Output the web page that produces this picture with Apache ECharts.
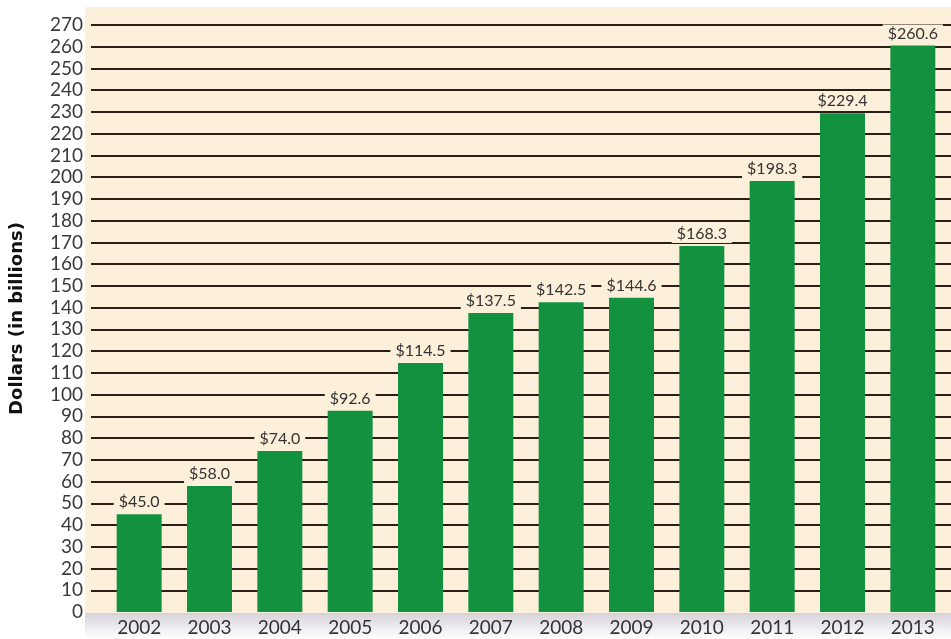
<!DOCTYPE html>
<html>
<head>
<meta charset="utf-8">
<script src="https://cdn.jsdelivr.net/npm/echarts@6/dist/echarts.min.js"></script>
<style>
  html, body { margin: 0; padding: 0; background: #fff; }
  #chart { width: 951px; height: 639px; }
</style>
</head>
<body>
<div id="chart"></div>
<script>
const years = ['2002', '2003', '2004', '2005', '2006', '2007', '2008', '2009', '2010', '2011', '2012', '2013']
const dollars = [45.0, 58.0, 74.0, 92.6, 114.5, 137.5, 142.5, 144.6, 168.3, 198.3, 229.4, 260.6]
const yMin = 0
const yMax = 270
const yStep = 10

const cream = '#fdf0da'
const green = '#12923f'
const textFont = 'Lato'

const chart = echarts.init(document.getElementById('chart'))

const option = {
  backgroundColor: '#ffffff',
  animation: false,
  graphic: [
    {
      type: 'rect',
      z: -10,
      shape: { x: 85, y: 7, width: 866, height: 606 },
      style: { fill: cream }
    },
    {
      type: 'rect',
      z: -10,
      shape: { x: 85, y: 613, width: 866, height: 26 },
      style: {
        fill: new echarts.graphic.LinearGradient(0, 0, 0, 1, [
          { offset: 0, color: '#d6d2dc' },
          { offset: 1, color: '#ffffff' }
        ])
      }
    }
  ],
  grid: [
    { left: 88, right: 0, top: 25, bottom: 27 },
    { left: 104, right: 3, top: 25, bottom: 27 }
  ],
  xAxis: [
    {
      gridIndex: 0,
      type: 'value',
      show: false,
      min: 0,
      max: 1
    },
    {
      gridIndex: 1,
      type: 'category',
      data: years,
      axisLine: { show: false },
      axisTick: { show: false },
      axisLabel: {
        color: '#333',
        fontFamily: textFont,
        fontSize: 19,
        margin: 6
      }
    }
  ],
  yAxis: [
    {
      gridIndex: 0,
      type: 'value',
      min: yMin,
      max: yMax,
      interval: yStep,
      name: 'Dollars (in billions)',
      nameLocation: 'middle',
      nameGap: 65,
      nameTextStyle: {
        color: '#111',
        fontFamily: 'DejaVu Sans',
        fontWeight: 'bold',
        fontSize: 18
      },
      axisLine: { show: false },
      axisTick: { show: false },
      axisLabel: {
        color: '#3a3a3a',
        fontFamily: textFont,
        fontSize: 19,
        margin: 8
      },
      splitLine: {
        show: true,
        showMinLine: false,
        lineStyle: { color: '#2a1f18', width: 2 }
      }
    },
    {
      gridIndex: 1,
      type: 'value',
      min: yMin,
      max: yMax,
      interval: yStep,
      show: false,
      splitLine: { show: false }
    }
  ],
  series: [
    {
      type: 'bar',
      xAxisIndex: 1,
      yAxisIndex: 1,
      data: dollars,
      barWidth: 45,
      itemStyle: { color: green },
      label: {
        show: true,
        position: 'top',
        distance: 3,
        formatter: p => '$' + p.value.toFixed(1),
        color: '#333',
        fontFamily: textFont,
        fontSize: 16,
        backgroundColor: cream,
        padding: [1, 5]
      }
    }
  ]
}

chart.setOption(option)
</script>
</body>
</html>
